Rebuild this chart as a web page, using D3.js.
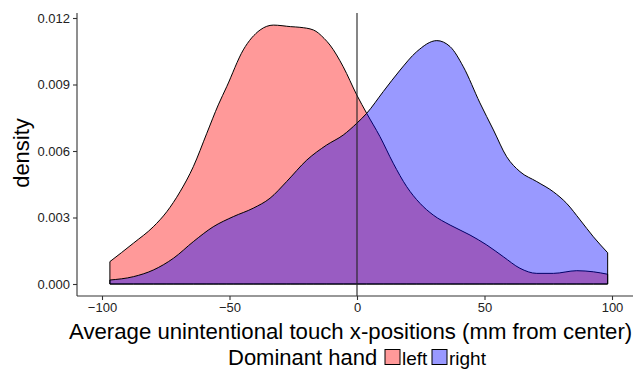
<!DOCTYPE html>
<html>
<head>
<meta charset="utf-8">
<script src="https://cdn.jsdelivr.net/npm/d3@7"></script>
<style>
  html, body { margin: 0; padding: 0; background: #fff; }
  svg { display: block; font-family: "Liberation Sans", Arial, sans-serif; }
</style>
</head>
<body>
<svg id="chart" width="633" height="370"></svg>
<script>
// Kernel density estimates of average unintentional touch x-position, by dominant hand
const leftX = [-96.9, -87.7, -79.9, -74.6, -69.4, -64.2, -58.9, -54.4, -51.1, -44.6, -38.0, -32.8, -26.0,
  -22.4, -17.1, -12.9, -10.6, -5.4, -0.1, 3.8, 9.0, 14.2, 19.5, 24.7, 29.9, 36.5, 44.3, 50.9, 57.4,
  63.9, 70.5, 77.0, 86.2, 92.7, 98.3];
const leftDensity = [0.00101, 0.00184, 0.00258, 0.00326, 0.00416, 0.00529, 0.00680, 0.00808, 0.00890,
  0.01056, 0.01146, 0.01168, 0.01161, 0.01158, 0.01146, 0.01108, 0.01078, 0.00980, 0.00853, 0.00770,
  0.00665, 0.00545, 0.00439, 0.00364, 0.00311, 0.00266, 0.00221, 0.00176, 0.00123, 0.00071, 0.00048,
  0.00048, 0.00060, 0.00055, 0.00044];

const rightX = [-96.9, -87.7, -79.9, -72.0, -64.2, -56.4, -48.5, -40.7, -34.1, -27.6, -19.7, -11.9,
  -5.4, -0.1, 3.8, 10.3, 16.9, 23.4, 31.3, 36.5, 41.7, 48.2, 53.5, 58.7, 63.9, 70.5, 77.0, 82.2,
  87.5, 92.7, 98.3];
const rightDensity = [0.00018, 0.00033, 0.00063, 0.00116, 0.00191, 0.00258, 0.00304, 0.00342, 0.00387,
  0.00462, 0.00559, 0.00627, 0.00672, 0.00725, 0.00770, 0.00868, 0.00965, 0.01048, 0.01098, 0.01071,
  0.00980, 0.00817, 0.00695, 0.00574, 0.00507, 0.00462, 0.00416, 0.00364, 0.00289, 0.00213, 0.00141];

const xTicks = [-100, -50, 0, 50, 100];
const yTicks = [0, 0.003, 0.006, 0.009, 0.012];
const groups = ["left", "right"];
const groupColors = ["#ff0000", "#0000ff"];

const svg = d3.select("#chart");
const panel = { left: 77, right: 633, top: 13, bottom: 296 };

const x = d3.scaleLinear().domain([-100, 100]).range([102, 612]);
const y = d3.scaleLinear().domain([0, 0.012]).range([284, 18]);
const fill = d3.scaleOrdinal().domain(groups).range(groupColors);

const series = [
  { key: "left", xs: leftX, ds: leftDensity },
  { key: "right", xs: rightX, ds: rightDensity }
];

const area = d3.area()
  .x(d => x(d[0]))
  .y0(y(0))
  .y1(d => y(d[1]))
  .curve(d3.curveMonotoneX);

svg.append("g").selectAll("path")
  .data(series)
  .join("path")
  .attr("d", s => area(s.xs.map((v, i) => [v, s.ds[i]])))
  .attr("fill", s => fill(s.key))
  .attr("fill-opacity", 0.4)
  .attr("stroke", "#000")
  .attr("stroke-width", 1)
  .attr("stroke-linejoin", "round");

// reference line at the screen centre
svg.append("line")
  .attr("x1", x(0)).attr("x2", x(0))
  .attr("y1", panel.top).attr("y2", panel.bottom)
  .attr("stroke", "#222").attr("stroke-width", 1.1);

// axes
const yAxis = svg.append("g")
  .attr("transform", `translate(${panel.left},0)`)
  .call(d3.axisLeft(y).tickValues(yTicks).tickFormat(d3.format(".3f")).tickSizeOuter(0).tickSize(4).tickPadding(3));
yAxis.select(".domain").attr("d", `M0,${panel.top}V${panel.bottom}`);

const xAxis = svg.append("g")
  .attr("transform", `translate(0,${panel.bottom})`)
  .call(d3.axisBottom(x).tickValues(xTicks).tickSizeOuter(0).tickSize(4).tickPadding(3));
xAxis.select(".domain").attr("d", `M${panel.left},0H${panel.right}`);

svg.selectAll(".tick text")
  .attr("font-size", 13)
  .attr("font-family", "Liberation Sans, Arial, sans-serif")
  .attr("fill", "#222");
svg.selectAll(".domain, .tick line").attr("stroke", "#333").attr("stroke-width", 1.1);

// axis titles
svg.append("text")
  .attr("transform", "translate(29,153) rotate(-90)")
  .attr("text-anchor", "middle")
  .attr("font-size", 22)
  .text("density");

svg.append("text")
  .attr("x", 69)
  .attr("y", 339)
  .attr("text-anchor", "start")
  .attr("font-size", 22.2)
  .text("Average unintentional touch x-positions (mm from center)");

// legend
const legend = svg.append("g");
legend.append("text")
  .attr("x", 228).attr("y", 365)
  .attr("font-size", 22)
  .text("Dominant hand");
const keyX = [385, 432];
const labelX = [402, 449];
groups.forEach((g, i) => {
  legend.append("rect")
    .attr("x", keyX[i]).attr("y", 349.5)
    .attr("width", 15).attr("height", 15)
    .attr("fill", fill(g)).attr("fill-opacity", 0.4)
    .attr("stroke", "#000").attr("stroke-width", 1);
  legend.append("text")
    .attr("x", labelX[i]).attr("y", 365)
    .attr("font-size", 19)
    .text(g);
});
</script>
</body>
</html>
